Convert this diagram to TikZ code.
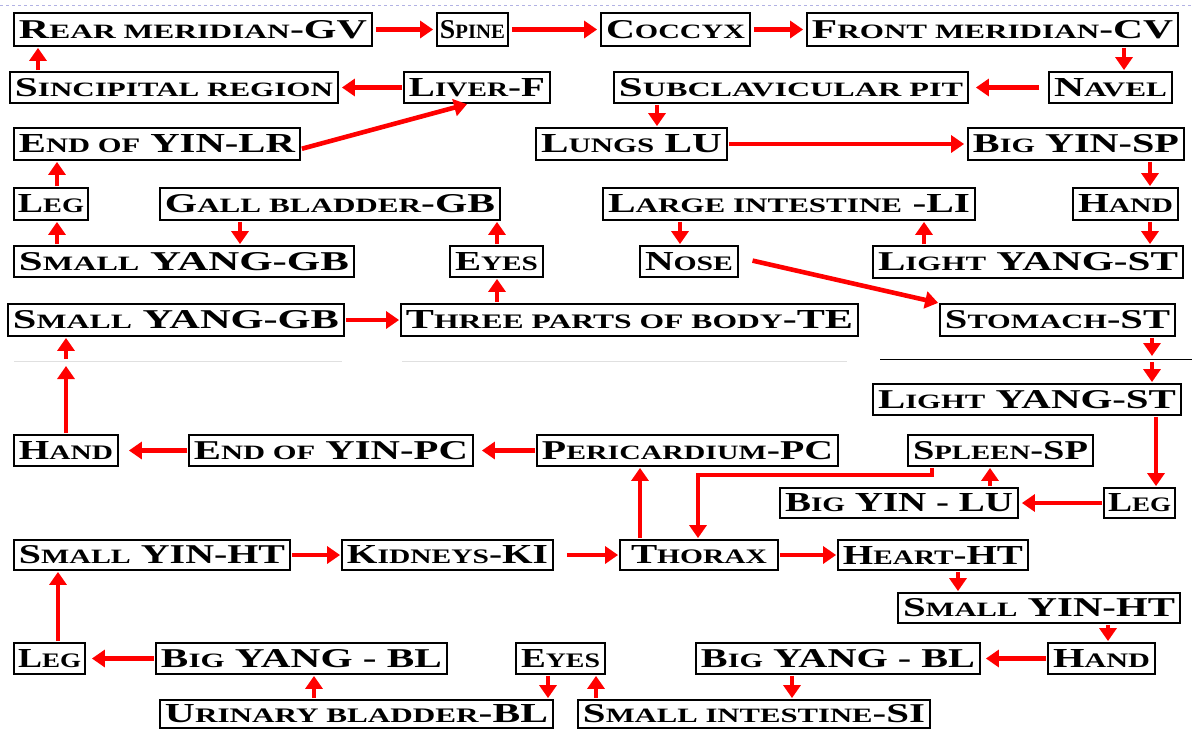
\documentclass[tikz,border=0pt]{standalone}
\usepackage{fontspec}
\setmainfont{Liberation Serif}
\usetikzlibrary{arrows.meta}
\newcommand\SC[1]{{\fontsize{15}{15}\selectfont #1}}
\tikzset{
  box/.style={draw=black, line width=1.8pt, inner sep=0pt, fill=white, font=\fontsize{20}{20}\selectfont\bfseries},
  arr/.style={draw=red, line width=4.6pt, -{Triangle[length=13pt,width=17pt,fill=red]}, shorten <=3pt, shorten >=3pt},
  sep/.style={line width=0.8pt, draw=black!12}
}
\newcommand\bx[7][10]{%
  \pgfmathsetmacro\bw{#5-#3}%
  \pgfmathsetmacro\tw{#5-#3-#1}%
  \pgfmathsetmacro\bh{#6-#4}%
  \node[box, minimum width=\bw pt, minimum height=\bh pt] (#2) at ({(#3+#5)/2},{(#4+#6)/2}) {\resizebox{\tw pt}{18pt}{#7}};}
\begin{document}
\begin{tikzpicture}[x=1pt,y=-1pt]
\fill[white] (0,0) rectangle (1192,729);
\useasboundingbox (0,0) rectangle (1192,729);
\draw[draw=black!35!blue!30, dashed, line width=0.8pt] (0,5) -- (1192,5);
% row 1
\bx{rear}{14}{13}{372}{46}{R\SC{EAR MERIDIAN}-GV}
\bx[6]{spine}{437}{13}{508}{46}{S\SC{PINE}}
\bx{coccyx}{601}{13}{750}{46}{C\SC{OCCYX}}
\bx{front}{807}{13}{1178}{46}{F\SC{RONT MERIDIAN}-CV}
% row 2
\bx{sinc}{10}{72}{338}{103}{S\SC{INCIPITAL REGION}}
\bx{liver}{404}{72}{550}{103}{L\SC{IVER}-F}
\bx{subcl}{614}{72}{968}{103}{S\SC{UBCLAVICULAR PIT}}
\bx{navel}{1049}{72}{1172}{103}{N\SC{AVEL}}
% row 3
\bx{endlr}{14}{128}{300}{160}{E\SC{ND OF} YIN-LR}
\bx{lungs}{536}{128}{727}{160}{L\SC{UNGS} LU}
\bx{bigyinsp}{968}{128}{1184}{160}{B\SC{IG} YIN-SP}
% row 4
\bx[8]{legA}{14}{188}{88}{220}{L\SC{EG}}
\bx{gall}{160}{188}{500}{220}{G\SC{ALL BLADDER}-GB}
\bx{largeint}{603}{188}{975}{220}{L\SC{ARGE INTESTINE} -LI}
\bx{handA}{1073}{188}{1178}{220}{H\SC{AND}}
% row 5
\bx{smyangA}{14}{246}{354}{277}{S\SC{MALL} YANG-GB}
\bx{eyesA}{450}{246}{543}{277}{E\SC{YES}}
\bx{nose}{640}{246}{738}{277}{N\SC{OSE}}
\bx{lightA}{873}{246}{1183}{278}{L\SC{IGHT} YANG-ST}
% row 6
\bx{smyangB}{8}{304}{344}{336}{S\SC{MALL} YANG-GB}
\bx{three}{401}{304}{858}{336}{T\SC{HREE PARTS OF BODY}-TE}
\bx{stomach}{940}{304}{1175}{336}{S\SC{TOMACH}-ST}
% row 7
\bx{lightB}{873}{384}{1181}{415}{L\SC{IGHT} YANG-ST}
% row 8
\bx{handB}{14}{435}{118}{466}{H\SC{AND}}
\bx{endpc}{189}{435}{473}{466}{E\SC{ND OF} YIN-PC}
\bx{peri}{537}{435}{838}{466}{P\SC{ERICARDIUM}-PC}
\bx{spleen}{908}{435}{1093}{466}{S\SC{PLEEN}-SP}
% row 9
\bx{bigyinlu}{780}{488}{1018}{518}{B\SC{IG} YIN - LU}
\bx[8]{legB}{1104}{488}{1175}{518}{L\SC{EG}}
% row 10
\bx{smyinA}{14}{540}{290}{570}{S\SC{MALL} YIN-HT}
\bx{kidneys}{342}{540}{553}{570}{K\SC{IDNEYS}-KI}
\bx[22]{thorax}{620}{540}{778}{570}{T\SC{HORAX}}
\bx{heart}{838}{540}{1028}{570}{H\SC{EART}-HT}
% row 11
\bx{smyinB}{898}{593}{1180}{623}{S\SC{MALL} YIN-HT}
% row 12
\bx[8]{legC}{14}{643}{85}{674}{L\SC{EG}}
\bx{bigyangA}{156}{643}{447}{674}{B\SC{IG} YANG - BL}
\bx{eyesB}{516}{643}{605}{674}{E\SC{YES}}
\bx{bigyangB}{696}{643}{980}{674}{B\SC{IG} YANG - BL}
\bx{handC}{1048}{643}{1155}{674}{H\SC{AND}}
% row 13
\bx{urinary}{160}{700}{553}{728}{U\SC{RINARY BLADDER}-BL}
\bx{smint}{578}{700}{930}{728}{S\SC{MALL INTESTINE}-SI}
% page-break points
\coordinate (pbL1) at (66,359);
\coordinate (pbL2) at (66,366);
\coordinate (pbR1) at (1152,356);
\coordinate (pbR2) at (1152,362);
% connectors
\draw[arr] (rear) -- (spine);
\draw[arr] (spine) -- (coccyx);
\draw[arr] (coccyx) -- (front);
\draw[arr, shorten <=1pt, shorten >=1pt] (front.south -| 1124,0) -- (navel.north -| 1124,0);
\draw[arr, shorten <=9pt, shorten >=7pt] (navel) -- (subcl);
\draw[arr, shorten <=1pt, shorten >=1pt] (subcl.south -| 657,0) -- (lungs.north -| 657,0);
\draw[arr, shorten <=1pt] (lungs) -- (bigyinsp);
\draw[arr, shorten <=1pt, shorten >=1pt] (bigyinsp.south -| 1150,0) -- (handA.north -| 1150,0);
\draw[arr, shorten <=1pt, shorten >=1pt] (handA.south -| 1150,0) -- (lightA.north -| 1150,0);
\draw[arr, shorten <=1pt, shorten >=1pt] (lightA.north -| 924,0) -- (largeint.south -| 924,0);
\draw[arr, shorten <=1pt, shorten >=1pt] (largeint.south -| 680,0) -- (nose.north -| 680,0);
\draw[arr, shorten <=14pt, shorten >=1pt] ([yshift=4pt]nose.east) -- (stomach.north west);
\draw[arr, shorten <=1pt, shorten >=0pt] (stomach.south -| 1152,0) -- (pbR1);
\draw[arr, shorten <=0pt, shorten >=1pt] (pbR2) -- (lightB.north -| 1152,0);
\draw[arr, shorten <=1pt, shorten >=1pt] (lightB.south -| 1156,0) -- (legB.north -| 1156,0);
\draw[arr, shorten <=1pt] (legB) -- (bigyinlu);
\draw[arr, shorten <=1pt, shorten >=1pt] (bigyinlu.north -| 990,0) -- (spleen.south -| 990,0);
\draw[arr, shorten <=1pt, shorten >=1pt] (spleen.south -| 932,0) |- (698,475) -- (thorax.north -| 698,0);
\draw[arr, shorten <=1pt, shorten >=1pt] (thorax.north -| 640,0) -- (peri.south -| 640,0);
\draw[arr, shorten <=1pt, shorten >=8pt] (peri) -- (endpc);
\draw[arr, shorten <=1pt, shorten >=10pt] (endpc) -- (handB);
\draw[arr, shorten <=1pt, shorten >=0pt] (handB.north -| 66,0) -- (pbL2);
\draw[arr, shorten <=0pt, shorten >=1pt] (pbL1) -- (smyangB.south -| 66,0);
\draw[arr, shorten <=1pt, shorten >=1pt] (smyangB) -- (three);
\draw[arr, shorten <=1pt, shorten >=1pt] (three.north -| 497,0) -- (eyesA.south -| 497,0);
\draw[arr, shorten <=1pt, shorten >=1pt] (eyesA.north -| 497,0) -- (gall.south -| 497,0);
\draw[arr, shorten <=1pt, shorten >=1pt] (gall.south -| 240,0) -- (smyangA.north -| 240,0);
\draw[arr, shorten <=1pt, shorten >=1pt] (smyangA.north -| 57,0) -- (legA.south -| 57,0);
\draw[arr, shorten <=1pt, shorten >=1pt] (legA.north -| 57,0) -- (endlr.south -| 57,0);
\draw[arr, shorten <=1pt, shorten >=1pt] ([yshift=-5pt]endlr.east) -- (liver.south -| 468,0);
\draw[arr, shorten <=1pt] (liver) -- (sinc);
\draw[arr, shorten <=1pt, shorten >=1pt] (sinc.north -| 38,0) -- (rear.south -| 38,0);
\draw[arr, shorten <=1pt, shorten >=1pt] (smyinA) -- (kidneys);
\draw[arr, shorten <=13pt, shorten >=1pt] (kidneys) -- (thorax);
\draw[arr, shorten <=1pt, shorten >=1pt] (thorax) -- (heart);
\draw[arr, shorten <=1pt, shorten >=1pt] (heart.south -| 958,0) -- (smyinB.north -| 958,0);
\draw[arr, shorten <=1pt, shorten >=1pt] (smyinB.south -| 1108,0) -- (handC.north -| 1108,0);
\draw[arr, shorten <=1pt, shorten >=5pt] (handC) -- (bigyangB);
\draw[arr, shorten <=1pt, shorten >=1pt] (bigyangB.south -| 792,0) -- (smint.north -| 792,0);
\draw[arr, shorten <=1pt, shorten >=1pt] (smint.north -| 596,0) -- (eyesB.south -| 596,0);
\draw[arr, shorten <=1pt, shorten >=1pt] (eyesB.south -| 548,0) -- (urinary.north -| 548,0);
\draw[arr, shorten <=1pt, shorten >=1pt] (urinary.north -| 314,0) -- (bigyangA.south -| 314,0);
\draw[arr, shorten <=1pt, shorten >=6pt] (bigyangA) -- (legC);
\draw[arr, shorten <=1pt, shorten >=1pt] (legC.north -| 58,0) -- (smyinA.south -| 58,0);
% page-break rules
\draw[sep] (14,361) -- (342,361);
\draw[sep] (402,361) -- (847,361);
\draw[line width=0.9pt] (880,359) -- (1192,359);
\end{tikzpicture}
\end{document}
